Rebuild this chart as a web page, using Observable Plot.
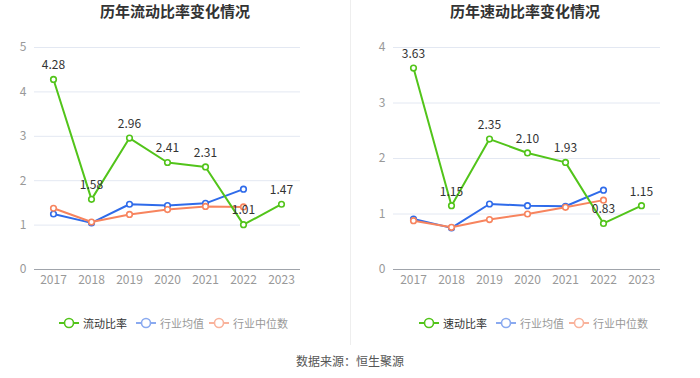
<!DOCTYPE html>
<html><head><meta charset="utf-8">
<script src="https://cdn.jsdelivr.net/npm/d3@7"></script>
<script src="https://cdn.jsdelivr.net/npm/@observablehq/plot@0.6"></script>
<style>
body{margin:0;background:#fff;font-family:"Noto Sans CJK SC","Noto Sans",sans-serif;}
#wrap{position:relative;width:700px;height:378px;overflow:hidden;background:#fff}
.title{position:absolute;top:0;width:350px;text-align:center;font-size:15px;font-weight:bold;color:#333;line-height:22px}
.chart{position:absolute;top:25px}
.divider{position:absolute;left:350px;top:0;width:1px;height:345px;background:#eeeeee}
.leg{position:absolute;top:315px;font-size:11px;line-height:16px;display:flex;align-items:center;white-space:nowrap}
.leg svg{margin-right:4px}
.src{position:absolute;top:352px;width:700px;text-align:center;font-size:12px;color:#555}
</style></head>
<body>
<div id="wrap">
  <div class="title" style="left:0">历年流动比率变化情况</div>
  <div class="title" style="left:350px">历年速动比率变化情况</div>
  <div class="chart" id="c1" style="left:0"></div>
  <div class="chart" id="c2" style="left:350px"></div>
  <div class="divider"></div>
  <div id="legends"></div>
  <div class="src">数据来源：恒生聚源</div>
</div>
<script>
const years = ["2017","2018","2019","2020","2021","2022","2023"];
const currentRatio = [4.28,1.58,2.96,2.41,2.31,1.01,1.47];
const currentMean = [1.25,1.05,1.47,1.44,1.49,1.81,null];
const currentMedian = [1.38,1.07,1.24,1.35,1.42,1.41,null];
const quickRatio = [3.63,1.15,2.35,2.10,1.93,0.83,1.15];
const quickMean = [0.91,0.75,1.18,1.15,1.14,1.43,null];
const quickMedian = [0.88,0.76,0.90,1.00,1.12,1.25,null];
const leftTicks = [0,1,2,3,4,5];
const rightTicks = [0,1,2,3,4];

const GREEN = "#52c41a", BLUE = "#2f6bea", ORANGE = "#f7845e";

function rows(vals){ return years.map((y,i)=>({year:y, v:vals[i]})).filter(d=>d.v!=null); }

function chart(main, mean, median, ticks, ml, mr){
  const series = [[mean,BLUE],[median,ORANGE],[main,GREEN]];
  const marks = [
    Plot.gridY(ticks, {stroke:"#e3e8f2", strokeOpacity:1}),
    Plot.ruleY([0], {stroke:"#a0a4ab"}),
    Plot.axisX({tickSize:0, tickPadding:6, fontSize:12, label:null}),
    Plot.axisY(ticks, {tickSize:0, tickPadding:8, fontSize:12, label:null, tickFormat:d=>String(d)}),
  ];
  for (const [vals,col] of series){
    const d = rows(vals);
    marks.push(Plot.line(d, {x:"year", y:"v", stroke:col, strokeWidth:2}));
    marks.push(Plot.dot(d, {x:"year", y:"v", r:2.8, stroke:col, strokeWidth:1.6, fill:"#fff"}));
  }
  const md = rows(main);
  marks.push(Plot.text(md, {x:"year", y:"v", text:d=>d.v.toFixed(2), dy:-14, fill:"#333", fontSize:12}));
  return Plot.plot({
    width:350, height:274,
    marginTop:22, marginBottom:30, marginLeft:ml, marginRight:mr,
    style:{color:"#999", fontFamily:"'Noto Sans CJK SC','Noto Sans',sans-serif", background:"transparent"},
    x:{type:"point", domain:years, padding:0.5, axis:null, label:null},
    y:{domain:[0, ticks[ticks.length-1]], axis:null, label:null},
    marks
  });
}
document.getElementById("c1").append(chart(currentRatio, currentMean, currentMedian, leftTicks, 34, 50));
document.getElementById("c2").append(chart(quickRatio, quickMean, quickMedian, rightTicks, 43, 40));

function icon(col){
  return `<svg width="20" height="12"><line x1="0" y1="6" x2="20" y2="6" stroke="${col}" stroke-width="2"/><circle cx="10" cy="6" r="4.5" fill="#fff" stroke="${col}" stroke-width="1.6"/></svg>`;
}
const legendItems = [
  [59,"流动比率",GREEN,"#333"],[136,"行业均值","#8aaaf0","#999"],[209,"行业中位数","#f9b39c","#999"],
  [419,"速动比率",GREEN,"#333"],[496,"行业均值","#8aaaf0","#999"],[569,"行业中位数","#f9b39c","#999"]
];
const lg = document.getElementById("legends");
for (const [x,t,col,tc] of legendItems){
  const el = document.createElement("div");
  el.className = "leg";
  el.style.left = x+"px";
  el.style.color = tc;
  el.innerHTML = icon(col) + `<span>${t}</span>`;
  lg.append(el);
}
</script>
</body></html>
